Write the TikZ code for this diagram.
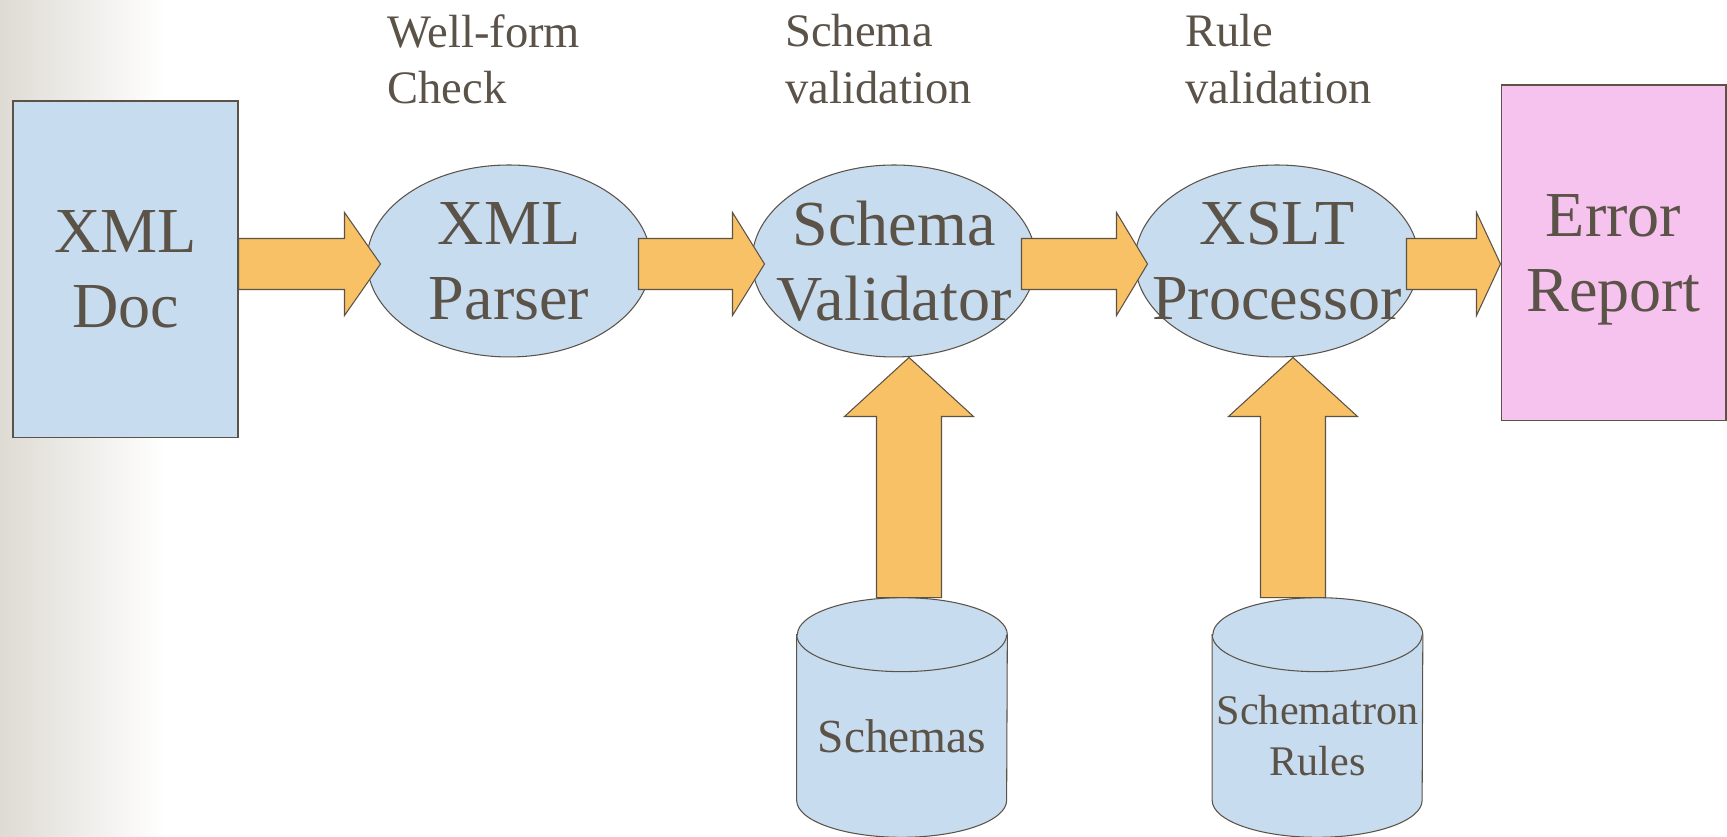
\documentclass[tikz,border=0pt]{standalone}
\usepackage{fontspec}
\setmainfont{Liberation Serif}
\usetikzlibrary{calc,shapes.geometric,backgrounds}

\definecolor{inkgray}{HTML}{5B5248}
\definecolor{boxblue}{HTML}{C8DCEF}
\definecolor{arroworange}{HTML}{F8C165}
\definecolor{reportpink}{HTML}{F6C2EE}
\definecolor{edgeshade}{HTML}{DEDBD4}

\tikzset{
  base/.style={draw=inkgray, line width=0.6pt, text=inkgray, align=center, inner sep=0pt},
  docbox/.style={base, rectangle, fill=boxblue, minimum width=4.5cm, minimum height=6.74cm,
    font=\fontsize{36.5}{42.7}\selectfont},
  reportbox/.style={docbox, fill=reportpink, minimum height=6.72cm, text depth=0pt},
  stage/.style={base, ellipse, fill=boxblue, minimum width=5.68cm, minimum height=3.84cm,
    inner xsep=-1cm, font=\fontsize{36.5}{42.7}\selectfont},
  store/.style={text=inkgray, align=center, inner sep=0pt, minimum width=4.2cm, minimum height=4.04cm,
    font=\fontsize{27}{32}\selectfont},
  storeshape/.style={draw=inkgray, line width=0.6pt, fill=boxblue},
  blockarrow/.style={draw=inkgray, line width=0.6pt, fill=arroworange},
  note/.style={text=inkgray, align=left, inner sep=0pt, anchor=west,
    font=\fontsize{26.5}{32}\selectfont}
}

% fat arrow: start, tip, half body, half head, head length
\newcommand{\bigarrow}[5]{%
  \coordinate (hb) at ($(#2)!#5!(#1)$);
  \draw[blockarrow] ($(#1)!#3!90:(#2)$) -- ($(hb)!#3!-90:(#1)$)
    -- ($(hb)!#4!-90:(#1)$) -- (#2) -- ($(hb)!#4!90:(#1)$)
    -- ($(hb)!#3!90:(#1)$) -- ($(#1)!#3!-90:(#2)$) -- cycle;}

\begin{document}
\begin{tikzpicture}[x=0.02cm, y=0.02cm]

    \useasboundingbox (0,0) rectangle (1727,837);

    % main chain
    \node[docbox] (doc) at (125.5,567.5) {XML\\Doc};
    \node[stage] (parser) at (509,576) {XML\\Parser};
    \node[stage] (validator) at (894,576) {Schema\\Validator};
    \node[stage] (xslt) at (1277,576) {XSLT\\Processor};
    \node[reportbox] (report) at (1613.5,584) {Error\\Report};

    % stores
    \node[store] (schemas) at (902,101) {Schemas};
    \node[store, font=\fontsize{24}{29}\selectfont] (rules) at (1317.5,101) {Schematron\\Rules};

    % captions
    \node[note] (wellform) at (387,778) {Well-form\\Check};
    \node[note] (schemacheck) at (785,778) {Schema\\validation};
    \node[note] (rulecheck) at (1185,778) {Rule\\validation};

    \begin{scope}[on background layer]
        \shade[left color=edgeshade, right color=white] (0,0) rectangle (165,837);
        \foreach \s in {schemas,rules}{
            \draw[storeshape] (\s.north west) -- ([yshift=0.74cm]\s.south west)
                arc[start angle=180, end angle=360, x radius=2.1cm, y radius=0.74cm]
                -- (\s.north east)
                arc[start angle=0, end angle=180, x radius=2.1cm, y radius=0.74cm] -- cycle;
            \draw[inkgray, line width=0.6pt] (\s.north west)
                arc[start angle=180, end angle=360, x radius=2.1cm, y radius=0.74cm];
        }
    \end{scope}

    % horizontal arrows
    \coordinate (a1t) at ([xshift=0.28cm,yshift=-0.06cm]parser.west);
    \coordinate (a1s) at (doc.east |- a1t);
    \bigarrow{a1s}{a1t}{0.51cm}{1.03cm}{0.72cm}
    \coordinate (a2s) at ([xshift=-0.26cm,yshift=-0.06cm]parser.east);
    \coordinate (a2t) at ([xshift=0.26cm,yshift=-0.06cm]validator.west);
    \bigarrow{a2s}{a2t}{0.51cm}{1.03cm}{0.64cm}
    \coordinate (a3s) at ([xshift=-0.3cm,yshift=-0.06cm]validator.east);
    \coordinate (a3t) at ([xshift=0.26cm,yshift=-0.06cm]xslt.west);
    \bigarrow{a3s}{a3t}{0.51cm}{1.03cm}{0.62cm}
    \coordinate (a4s) at ([xshift=-0.26cm,yshift=-0.06cm]xslt.east);
    \coordinate (a4t) at (report.west |- a4s);
    \bigarrow{a4s}{a4t}{0.51cm}{1.03cm}{0.48cm}

    % vertical arrows
    \path ($(schemas.north)+(0,37)$) coordinate (schemastop);
    \path ($(rules.north)+(0,37)$) coordinate (rulestop);
    \coordinate (v1t) at ([xshift=0.3cm]validator.south);
    \coordinate (v1s) at (v1t |- schemastop);
    \bigarrow{v1s}{v1t}{0.65cm}{1.29cm}{1.18cm}
    \coordinate (v2t) at ([xshift=0.32cm]xslt.south);
    \coordinate (v2s) at (v2t |- rulestop);
    \bigarrow{v2s}{v2t}{0.65cm}{1.29cm}{1.18cm}

\end{tikzpicture}
\end{document}
